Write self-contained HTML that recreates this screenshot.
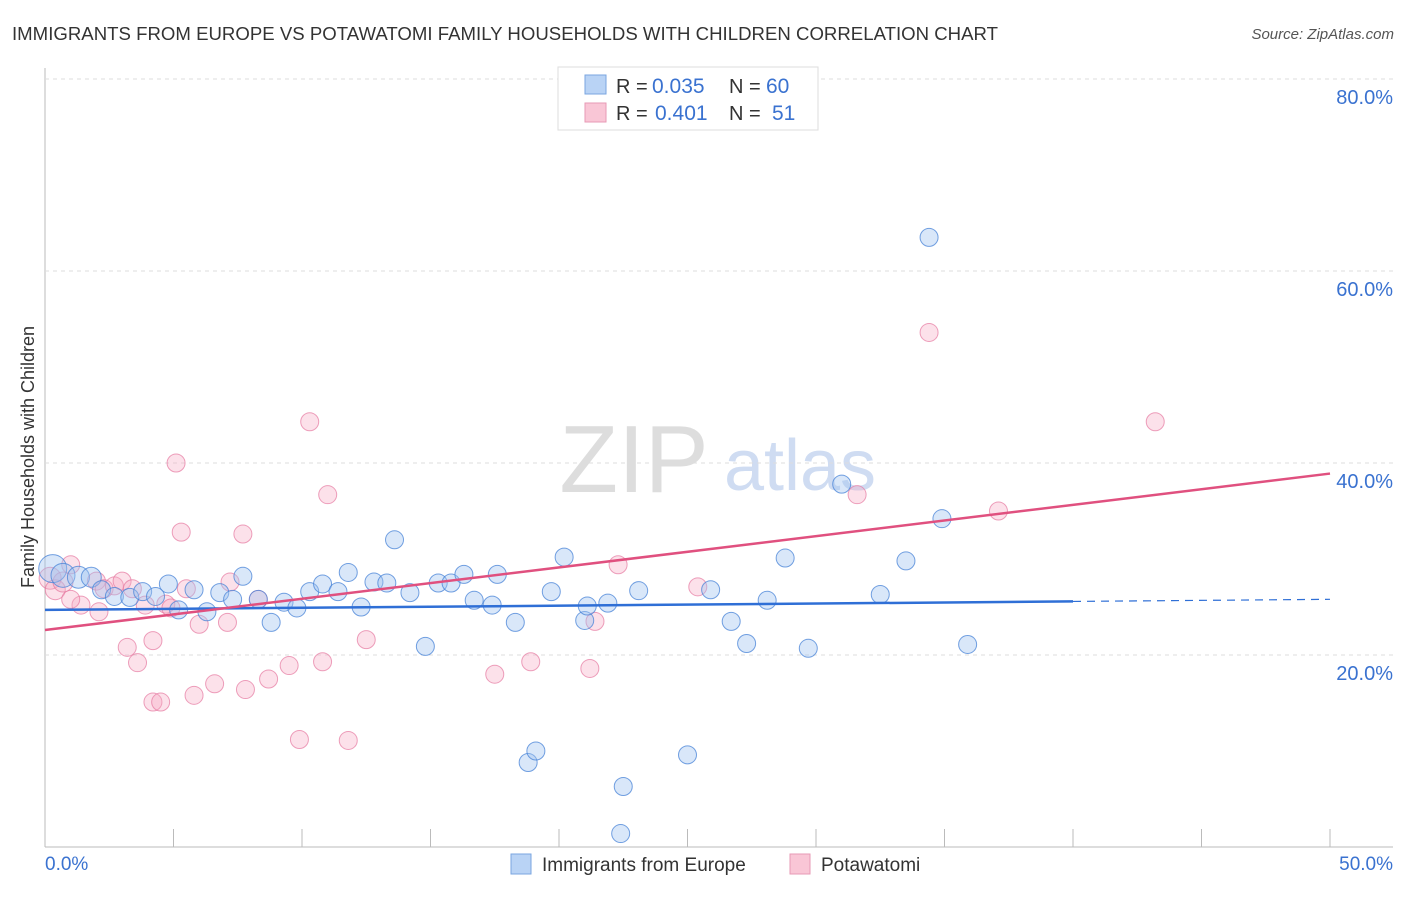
<!DOCTYPE html>
<html><head><meta charset="utf-8"><style>
body{margin:0;background:#fff;font-family:"Liberation Sans",sans-serif}
svg text{font-family:"Liberation Sans",sans-serif}
</style></head><body>
<svg id="chart" width="1406" height="892">
<text x="12" y="40" font-size="18.6" fill="#333" textLength="986">IMMIGRANTS FROM EUROPE VS POTAWATOMI FAMILY HOUSEHOLDS WITH CHILDREN CORRELATION CHART</text>
<text x="1394" y="39" font-size="15" fill="#555" font-style="italic" text-anchor="end">Source: ZipAtlas.com</text>
<text x="634" y="492" font-size="96" fill="#ddd" font-family="Liberation Serif" text-anchor="middle">ZIP</text>
<text x="800" y="490" font-size="72" fill="#cfdcf2" text-anchor="middle">atlas</text>
<g id="grid"></g><g id="marks"></g>
<text transform="translate(34,457) rotate(-90)" font-size="18" fill="#333" text-anchor="middle">Family Households with Children</text>
<g>
<rect x="558" y="67" width="260" height="63" fill="#fff" stroke="#ddd"/>
<rect x="585" y="75" width="21" height="19" fill="#b9d3f5" stroke="#7aa6e0"/>
<rect x="585" y="103" width="21" height="19" fill="#f9c6d6" stroke="#e79ab5"/>
<text x="616" y="93" font-size="20" fill="#333">R =</text>
<text x="652" y="93" font-size="21" fill="#3a72d0">0.035</text>
<text x="729" y="93" font-size="20" fill="#333">N =</text>
<text x="766" y="93" font-size="21" fill="#3a72d0">60</text>
<text x="616" y="120" font-size="20" fill="#333">R =</text>
<text x="655" y="120" font-size="21" fill="#3a72d0">0.401</text>
<text x="729" y="120" font-size="20" fill="#333">N =</text>
<text x="772" y="120" font-size="21" fill="#3a72d0">51</text>
</g>
<g>
<rect x="511" y="854" width="20" height="20" fill="#b9d3f5" stroke="#7aa6e0"/>
<text x="542" y="871" font-size="19" fill="#333">Immigrants from Europe</text>
<rect x="790" y="854" width="20" height="20" fill="#f9c6d6" stroke="#e79ab5"/>
<text x="821" y="871" font-size="19" fill="#333">Potawatomi</text>
</g>
</svg>
<script>
const yTicks=[20,40,60,80];
const xTickLabels=["0.0%","50.0%"];
const blueX=[0.3,0.7,1.3,1.8,2.2,2.7,3.3,3.8,4.3,4.8,5.2,5.8,6.3,6.8,7.3,7.7,8.3,8.8,9.3,9.8,10.3,10.8,11.4,11.8,12.3,12.8,13.3,13.6,14.2,14.8,15.3,15.8,16.3,16.7,17.4,17.6,18.3,18.8,19.1,19.7,20.2,21.0,21.1,21.9,22.5,22.4,23.1,25.0,25.9,26.7,27.3,28.1,28.8,29.7,31.0,32.5,33.5,34.4,34.9,35.9];
const blueY=[29.0,28.3,28.1,28.1,26.8,26.1,26.0,26.6,26.1,27.4,24.7,26.8,24.5,26.5,25.8,28.2,25.8,23.4,25.5,24.9,26.6,27.4,26.6,28.6,25.0,27.6,27.5,32.0,26.5,20.9,27.5,27.5,28.4,25.7,25.2,28.4,23.4,8.8,10.0,26.6,30.2,23.6,25.1,25.4,6.3,1.4,26.7,9.6,26.8,23.5,21.2,25.7,30.1,20.7,37.8,26.3,29.8,63.5,34.2,21.1];
const blueR=[14,12,11,10,9,9,9,9,9,9,9,9,9,9,9,9,9,9,9,9,9,9,9,9,9,9,9,9,9,9,9,9,9,9,9,9,9,9,9,9,9,9,9,9,9,9,9,9,9,9,9,9,9,9,9,9,9,9,9,9];
const pinkX=[0.2,0.4,0.7,1.0,1.4,2.0,2.3,2.7,3.0,3.4,3.6,3.2,3.9,4.2,4.2,4.5,4.7,4.9,5.1,5.3,5.5,5.8,6.0,6.6,7.1,7.7,7.8,8.3,8.7,9.5,9.9,10.3,10.8,11.0,11.8,12.5,17.5,18.9,21.2,21.4,22.3,25.4,31.6,34.4,37.1,43.2,7.2,2.1,1.0];
const pinkY=[28.0,26.8,27.6,29.4,25.2,27.7,26.9,27.2,27.7,26.9,19.2,20.8,25.2,21.5,15.1,15.1,25.3,24.9,40.0,32.8,26.9,15.8,23.2,17.0,23.4,32.6,16.4,25.8,17.5,18.9,11.2,44.3,19.3,36.7,11.1,21.6,18.0,19.3,18.6,23.5,29.4,27.1,36.7,53.6,35.0,44.3,27.6,24.5,25.8];
const pinkR=[11,10,10,9,9,9,9,9,9,9,9,9,9,9,9,9,9,9,9,9,9,9,9,9,9,9,9,9,9,9,9,9,9,9,9,9,9,9,9,9,9,9,9,9,9,9,9,9,9];
const blueTrend=[24.7,25.8];
const pinkTrend=[22.6,38.9];
const X0=45,X1=1330,Y0=847,PY=9.6;
const xs=v=>X0+(v/50)*(X1-X0);
const ys=v=>Y0-v*PY;
const NS="http://www.w3.org/2000/svg";
function mk(t,a,p){const e=document.createElementNS(NS,t);for(const k in a)e.setAttribute(k,a[k]);p.appendChild(e);return e;}
const grid=document.getElementById('grid'),marks=document.getElementById('marks');
mk('line',{x1:X0,y1:68,x2:X0,y2:Y0,stroke:'#bbb'},grid);
mk('line',{x1:X0,y1:Y0,x2:1393,y2:Y0,stroke:'#bbb'},grid);
for(let i=0;i<=10;i++){mk('line',{x1:xs(i*5),y1:Y0,x2:xs(i*5),y2:829,stroke:'#bbb'},grid);}
yTicks.forEach(t=>{
 const l=mk('line',{x1:X0,y1:ys(t),x2:1393,y2:ys(t),stroke:'#ddd','stroke-dasharray':'4,4'},grid);
 
 
 const tx=mk('text',{x:1393,y:ys(t)+25,'font-size':20,fill:'#3a72d0','text-anchor':'end'},grid);tx.textContent=t.toFixed(1)+'%';
 
 
});
const xl0=mk('text',{x:45,y:870,'font-size':19,fill:'#3a72d0'},grid);xl0.textContent=xTickLabels[0];


const xl1=mk('text',{x:1393,y:870,'font-size':19,fill:'#3a72d0','text-anchor':'end'},grid);xl1.textContent=xTickLabels[1];


pinkX.forEach((v,i)=>{const c=mk('circle',{cx:xs(v),cy:ys(pinkY[i]),r:pinkR[i],fill:'rgba(246,170,195,0.35)',stroke:'rgba(230,120,160,0.7)','stroke-width':1},marks);
 
 });
blueX.forEach((v,i)=>{const c=mk('circle',{cx:xs(v),cy:ys(blueY[i]),r:blueR[i],fill:'rgba(160,196,240,0.4)',stroke:'rgba(70,130,215,0.75)','stroke-width':1},marks);
 
 });
const bt=mk('line',{x1:xs(0),y1:ys(blueTrend[0]),x2:xs(40),y2:ys(blueTrend[0]+(blueTrend[1]-blueTrend[0])*0.8),stroke:'#2f6fd6','stroke-width':2.5},marks);


const bd=mk('line',{x1:xs(40),y1:ys(blueTrend[0]+(blueTrend[1]-blueTrend[0])*0.8),x2:xs(50),y2:ys(blueTrend[1]),stroke:'#2f6fd6','stroke-width':1.2,'stroke-dasharray':'8,6'},marks);


const pt=mk('line',{x1:xs(0),y1:ys(pinkTrend[0]),x2:xs(50),y2:ys(pinkTrend[1]),stroke:'#e0507f','stroke-width':2.5},marks);


</script>
</body></html>
